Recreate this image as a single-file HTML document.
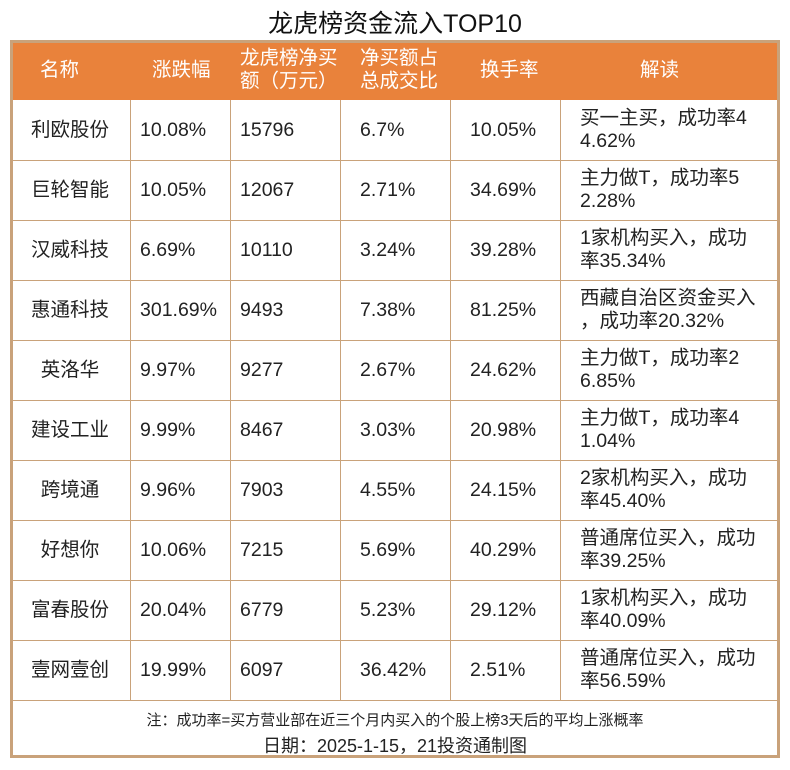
<!DOCTYPE html>
<html><head><meta charset="utf-8"><style>
body{margin:0;width:790px;height:770px;background:#fff;font-family:"Liberation Sans","Noto Sans CJK SC",sans-serif;color:#222;position:relative;overflow:hidden}
.title{position:absolute;top:4px;left:0;width:790px;text-align:center;font-size:25px;color:#111}
.hdr{position:absolute;left:10px;top:40px;width:770px;height:60px;background:#e9823b}
.box{position:absolute;left:10px;top:40px;width:770px;height:718px;border:3px solid #c9a27a;box-sizing:border-box}
.h{position:absolute;left:10px;width:770px;height:0;border-top:1.5px solid #c9a27a}
.v{position:absolute;top:100px;height:600px;width:0;border-left:1.5px solid #c9a27a}
.c{position:absolute;font-size:19.5px;line-height:23px;display:flex;align-items:center;height:60px;white-space:nowrap}
.w{color:#fff}
.foot{position:absolute;left:10px;width:770px;text-align:center}
</style></head><body>
<div class="title">龙虎榜资金流入TOP10</div>
<div class="hdr"></div>
<div class="box"></div>
<div class="h" style="top:160px"></div><div class="h" style="top:220px"></div><div class="h" style="top:280px"></div><div class="h" style="top:340px"></div><div class="h" style="top:400px"></div><div class="h" style="top:460px"></div><div class="h" style="top:520px"></div><div class="h" style="top:580px"></div><div class="h" style="top:640px"></div><div class="h" style="top:700px"></div>
<div class="v" style="left:130px"></div><div class="v" style="left:230px"></div><div class="v" style="left:340px"></div><div class="v" style="left:450px"></div><div class="v" style="left:560px"></div>
<div class="c w" style="left:40px;top:40px">名称</div>
<div class="c w" style="left:152px;top:40px">涨跌幅</div>
<div class="c w" style="left:240px;top:40px">龙虎榜净买<br>额（万元）</div>
<div class="c w" style="left:360px;top:40px">净买额占<br>总成交比</div>
<div class="c w" style="left:480px;top:40px">换手率</div>
<div class="c w" style="left:640px;top:40px">解读</div>
<div id="rows"></div>
<script>
var d=[["利欧股份","10.08%","15796","6.7%","10.05%","买一主买，成功率4<br>4.62%"],
["巨轮智能","10.05%","12067","2.71%","34.69%","主力做T，成功率5<br>2.28%"],
["汉威科技","6.69%","10110","3.24%","39.28%","1家机构买入，成功<br>率35.34%"],
["惠通科技","301.69%","9493","7.38%","81.25%","西藏自治区资金买入<br>，成功率20.32%"],
["英洛华","9.97%","9277","2.67%","24.62%","主力做T，成功率2<br>6.85%"],
["建设工业","9.99%","8467","3.03%","20.98%","主力做T，成功率4<br>1.04%"],
["跨境通","9.96%","7903","4.55%","24.15%","2家机构买入，成功<br>率45.40%"],
["好想你","10.06%","7215","5.69%","40.29%","普通席位买入，成功<br>率39.25%"],
["富春股份","20.04%","6779","5.23%","29.12%","1家机构买入，成功<br>率40.09%"],
["壹网壹创","19.99%","6097","36.42%","2.51%","普通席位买入，成功<br>率56.59%"]];
var h="";
d.forEach(function(r,i){var t=100+60*i;
h+='<div class="c" style="left:10px;width:120px;justify-content:center;top:'+t+'px">'+r[0]+'</div>';
h+='<div class="c" style="left:140px;top:'+t+'px">'+r[1]+'</div>';
h+='<div class="c" style="left:240px;top:'+t+'px">'+r[2]+'</div>';
h+='<div class="c" style="left:360px;top:'+t+'px">'+r[3]+'</div>';
h+='<div class="c" style="left:470px;top:'+t+'px">'+r[4]+'</div>';
h+='<div class="c" style="left:580px;top:'+t+'px">'+r[5]+'</div>';});
document.getElementById('rows').innerHTML=h;
</script>
<div class="foot" style="top:709px;font-size:15px">注：成功率=买方营业部在近三个月内买入的个股上榜3天后的平均上涨概率</div>
<div class="foot" style="top:732px;font-size:18px">日期：2025-1-15，21投资通制图</div>
</body></html>
